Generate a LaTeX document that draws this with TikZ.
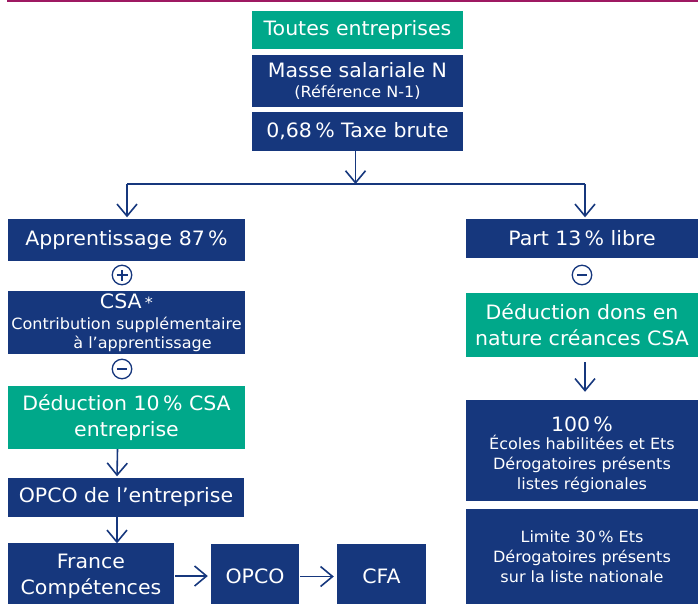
\documentclass[tikz,border=0pt]{standalone}
\usepackage{fontspec}
\setmainfont{DejaVu Sans}[FakeStretch=1.035]
\usetikzlibrary{arrows.meta}
\definecolor{bleu}{RGB}{22,55,125}
\definecolor{vert}{RGB}{0,168,138}
\definecolor{magline}{RGB}{158,25,98}
\newcommand{\petit}{\fontsize{15.5}{20}\selectfont}
\newcommand{\grand}{\fontsize{19.8}{24}\selectfont}
\begin{document}
\begin{tikzpicture}[x=1pt,y=-1pt,
  box/.style={fill=bleu,text=white,inner sep=0pt,align=center,font=\fontsize{19.8}{26}\selectfont},
  gbox/.style={box,fill=vert},
  sbox/.style={box,font=\petit},
  conn/.style={draw=bleu,line width=1.6pt},
  arr/.style={conn,-{Straight Barb[length=12pt,width=20pt]},shorten >=1.5pt},
  op/.style={circle,draw=bleu,line width=1.3pt,minimum size=19.5pt,inner sep=0pt},
  opbar/.style={draw=bleu,line width=1.5pt}]
\useasboundingbox (0,0) rectangle (698,604);
\draw[magline,line width=1.8pt] (7,0.9) -- (698,0.9);

% top column
\node[gbox,minimum width=211pt,minimum height=38pt] (toutes) at (357.5,30) {Toutes entreprises};
\node[box,minimum width=211pt,minimum height=52pt] (masse) at (357.5,81) {Masse salariale N\\[-6pt]{\petit (Référence N-1)}};
\node[box,minimum width=211pt,minimum height=39pt] (taxe) at (357.5,131.5) {0,68\,\% Taxe brute};

% left column
\node[box,minimum width=237pt,minimum height=42pt] (apprent) at (126.5,240) {Apprentissage 87\,\%};
\node[op] (plus) at (122,275) {};
\node[box,minimum width=237pt,minimum height=63pt] (csa) at (126.5,322.5) {CSA\,{\petit *}\\[-5pt]{\petit Contribution supplémentaire}\\[-7pt]{\petit \hspace*{32pt}à l’apprentissage}};
\node[op] (moins1) at (122,369) {};
\node[gbox,minimum width=237pt,minimum height=63pt] (ded10) at (126.5,417.5) {Déduction 10\,\% CSA\\entreprise};
\node[box,minimum width=236pt,minimum height=39pt] (opcoent) at (126,497.5) {OPCO de l’entreprise};
\node[box,minimum width=166pt,minimum height=66pt] (france) at (91,576) {France\\Compétences};
\node[box,minimum width=88pt,minimum height=65pt] (opco) at (255,576.5) {OPCO};
\node[box,minimum width=89pt,minimum height=65pt] (cfa) at (381.5,576.5) {CFA};

% right column
\node[box,minimum width=232pt,minimum height=39pt] (part) at (582,238.5) {Part 13\,\% libre};
\node[op] (moins2) at (582,275) {};
\node[gbox,minimum width=232pt,minimum height=64pt] (dons) at (582,325) {Déduction dons en\\nature créances CSA};
\node[sbox,minimum width=232pt,minimum height=101pt] (cent) at (582,450.5) {};
\node[sbox,fill=none,yshift=-4pt] (centtxt) at (cent.center) {{\grand 100\,\%}\\[-2pt]Écoles habilitées et Ets\\Dérogatoires présents\\listes régionales};
\node[sbox,minimum width=232pt,minimum height=95pt] (limite) at (582,556.5) {Limite 30\,\% Ets\\Dérogatoires présents\\sur la liste nationale};

% operators
\draw[opbar] ([xshift=-5.5pt]plus.center) -- ([xshift=5.5pt]plus.center);
\draw[opbar] ([yshift=-5.5pt]plus.center) -- ([yshift=5.5pt]plus.center);
\draw[opbar,line width=2pt] ([xshift=-5pt]moins1.center) -- ([xshift=5pt]moins1.center);
\draw[opbar,line width=2pt] ([xshift=-5pt]moins2.center) -- ([xshift=5pt]moins2.center);

% connectors
\coordinate (lc) at (127,184);
\coordinate (rc) at (585,184);
\draw[arr,shorten >=0pt] ([xshift=-2pt]taxe.south) -- ([xshift=-2pt]taxe.south |- lc);
\draw[conn] (lc) -- (rc);
\draw[arr] (lc) -- (lc |- apprent.north);
\draw[arr] (rc) -- (rc |- part.north);
\draw[arr] ([xshift=-9pt]ded10.south) -- ([xshift=-9pt]opcoent.north);
\draw[arr] ([xshift=-9pt]opcoent.south) -- ([xshift=-9pt,yshift=-2pt]opcoent.south |- france.north);
\draw[arr,shorten >=8pt] ([xshift=3pt,yshift=-5pt]dons.south) -- ([xshift=3pt]cent.north);
\draw[arr,shorten >=3pt] ([xshift=1pt]france.east) -- (france.east -| opco.west);
\draw[arr,shorten >=3pt] ([xshift=1pt]opco.east) -- (opco.east -| cfa.west);
\end{tikzpicture}
\end{document}
